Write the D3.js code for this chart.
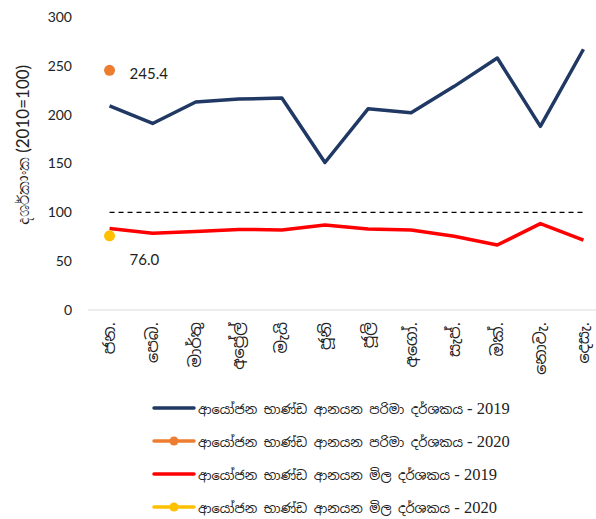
<!DOCTYPE html>
<html><head><meta charset="utf-8">
<script src="https://cdn.jsdelivr.net/npm/d3@7"></script>
<style>body{margin:0;background:#fff}svg{display:block}</style>
</head><body>
<svg id="c" width="596" height="519"></svg>
<script>
const months = ["ජන.","පෙබ.","මාර්තු","අප්‍රේල්","මැයි","ජූනි","ජූලි","අගෝ.","සැප්.","ඔක්.","නොවැ.","දෙසැ."];
const volume2019 = [209, 191, 213, 216, 217, 151, 206, 202, 229, 258, 188, 267];
const value2019 = [83.5, 78.5, 80.5, 82.5, 82, 87, 83, 82, 75.5, 66.5, 88.5, 71.5];
const volume2020 = [245.4];
const value2020 = [76.0];
const baseLine = 100;
const yTicks = [0, 50, 100, 150, 200, 250, 300];
const seriesNames = [
  "ආයෝජන භාණ්ඩ ආනයන පරිමා දර්ශකය",
  "ආයෝජන භාණ්ඩ ආනයන පරිමා දර්ශකය",
  "ආයෝජන භාණ්ඩ ආනයන මිල දර්ශකය",
  "ආයෝජන භාණ්ඩ ආනයන මිල දර්ශකය"
];
const seriesYears = ["2019", "2020", "2019", "2020"];
const colors = ["#203864", "#ed7d31", "#ff0000", "#ffc000"];
const yTitle = "දර්ශකාංක (2010=100)";

const svg = d3.select("#c");
const x = d3.scaleBand().domain(months).range([88, 605]);
const cx = m => x(m) + x.bandwidth() / 2;
const y = d3.scaleLinear().domain([0, 300]).range([310, 17]);
const numFont = "Lato, 'Open Sans', sans-serif";

// y tick labels
svg.append("g").selectAll("text").data(yTicks).join("text")
  .attr("x", 72).attr("y", d => y(d)).attr("dy", "0.35em")
  .attr("text-anchor", "end").attr("font-family", numFont).attr("font-size", 14)
  .attr("fill", "#222").text(d => d);

// x axis line
svg.append("line").attr("x1", 88).attr("x2", 605).attr("y1", y(0)).attr("y2", y(0))
  .attr("stroke", "#d9d9d9").attr("stroke-width", 1);

// x labels rotated
svg.append("g").selectAll("text").data(months).join("text")
  .attr("transform", d => `translate(${cx(d)},${y(0) + 12}) rotate(-90)`)
  .attr("text-anchor", "end").attr("dy", "0.35em")
  .attr("font-family", "'Noto Sans Sinhala', 'Iskoola Pota', sans-serif").attr("font-size", 16)
  .attr("fill", "#222").text(d => d);

// y title
svg.append("text").attr("transform", `translate(23,145) rotate(-90)`)
  .attr("text-anchor", "middle").attr("dy", "0.35em")
  .attr("font-family", numFont).attr("font-size", 17).attr("fill", "#222").text(yTitle);

// dashed 100 line
svg.append("line").attr("x1", cx(months[0])).attr("x2", cx(months[11]))
  .attr("y1", y(baseLine)).attr("y2", y(baseLine))
  .attr("stroke", "#000").attr("stroke-width", 1.2).attr("stroke-dasharray", "5,4");

const line = d3.line().x((d, i) => cx(months[i])).y(d => y(d));
svg.append("path").datum(volume2019).attr("d", line).attr("fill", "none")
  .attr("stroke", colors[0]).attr("stroke-width", 3.5).attr("stroke-linejoin", "round");
svg.append("path").datum(value2019).attr("d", line).attr("fill", "none")
  .attr("stroke", colors[2]).attr("stroke-width", 3.5).attr("stroke-linejoin", "round");

svg.selectAll(".v20").data(volume2020).join("circle").attr("class", "v20")
  .attr("cx", (d, i) => cx(months[i])).attr("cy", d => y(d)).attr("r", 5.5).attr("fill", colors[1]);
svg.selectAll(".p20").data(value2020).join("circle").attr("class", "p20")
  .attr("cx", (d, i) => cx(months[i])).attr("cy", d => y(d)).attr("r", 5.5).attr("fill", colors[3]);

svg.selectAll(".l20").data(volume2020).join("text").attr("class", "l20")
  .attr("x", (d, i) => cx(months[i]) + 20).attr("y", d => y(d) + 3).attr("dy", "0.35em")
  .attr("font-family", numFont).attr("font-size", 15).attr("fill", "#222").text(d => d.toFixed(1));
svg.selectAll(".lp20").data(value2020).join("text").attr("class", "lp20")
  .attr("x", (d, i) => cx(months[i]) + 20).attr("y", d => y(d) + 24).attr("dy", "0.35em")
  .attr("font-family", numFont).attr("font-size", 15).attr("fill", "#222").text(d => d.toFixed(1));

// legend
const lg = svg.append("g").selectAll("g").data(seriesNames).join("g")
  .attr("transform", (d, i) => `translate(154,${408 + i * 33})`);
lg.append("line").attr("x1", 0).attr("x2", 40).attr("y1", 0).attr("y2", 0)
  .attr("stroke", (d, i) => colors[i]).attr("stroke-width", 3.5).attr("stroke-linecap", "round");
lg.filter((d, i) => i % 2 === 1).append("circle").attr("cx", 20).attr("cy", 0).attr("r", 4.5)
  .attr("fill", (d, i) => colors[i * 2 + 1]);
const lt = lg.append("text").attr("x", 44).attr("y", 0).attr("dy", "0.35em")
  .attr("fill", "#222");
lt.append("tspan").attr("font-family", "'Noto Sans Sinhala', sans-serif").attr("font-size", 13)
  .text(d => d);
lt.append("tspan").attr("font-family", "'Liberation Serif', serif").attr("font-size", 16.5)
  .text((d, i) => " - " + seriesYears[i]);
</script>
</body></html>
